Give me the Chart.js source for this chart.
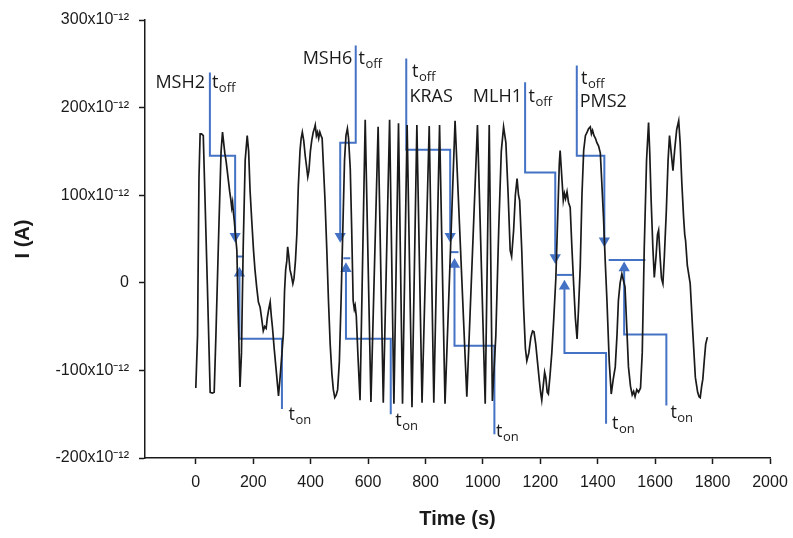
<!DOCTYPE html>
<html>
<head>
<meta charset="utf-8">
<script src="https://cdn.jsdelivr.net/npm/chart.js@4/dist/chart.umd.min.js"></script>
<style>
  html, body { margin: 0; padding: 0; background: #fff; }
  #wrap { width: 793px; height: 538px; }
</style>
</head>
<body>
<div id="wrap"><canvas id="myChart" width="793" height="538"></canvas></div>
<script>
// current trace, time in s, current in pA (axis shows x10^-12 A)
const time = [0, 6, 11, 15, 20, 26, 30, 40, 50, 58, 64, 70, 80, 88, 93, 97, 101, 105, 108, 113, 118, 122, 125, 128, 131, 134, 138, 143, 148, 154,
    159, 165, 172, 179, 184, 189, 195, 201, 206, 212, 218, 224, 229, 235, 240, 245, 249, 254, 259, 263, 267, 273, 280, 288, 293, 299, 305, 309, 313, 317,
    320, 324, 328, 333, 338, 342, 347, 352, 357, 363, 367, 371, 376, 381, 386, 390, 394, 399, 404, 409, 413, 416, 420, 424, 428, 432, 436, 440, 445, 450,
    456, 462, 468, 474, 479, 484, 489, 494, 500, 506, 512, 518, 523, 528, 532, 538, 543, 548, 552, 555, 559, 565, 572, 590, 610, 635, 653, 675, 690, 706,
    720, 736, 753, 770, 788, 813, 829, 849, 868, 903, 944, 981, 1008, 1022, 1033, 1045, 1055, 1064, 1072, 1080, 1088, 1095, 1100, 1107, 1113, 1119, 1124, 1128, 1135, 1142,
    1148, 1153, 1160, 1167, 1173, 1178, 1184, 1190, 1196, 1201, 1205, 1210, 1215, 1219, 1224, 1228, 1234, 1240, 1247, 1254, 1261, 1266, 1269, 1274, 1280, 1284, 1288, 1293, 1298, 1304,
    1310, 1316, 1322, 1328, 1333, 1339, 1345, 1351, 1357, 1363, 1368, 1374, 1378, 1382, 1387, 1392, 1397, 1403, 1409, 1414, 1420, 1426, 1432, 1440, 1447, 1454, 1461, 1467, 1472, 1478,
    1484, 1490, 1495, 1501, 1507, 1514, 1520, 1525, 1530, 1536, 1542, 1549, 1555, 1562, 1570, 1577, 1581, 1586, 1592, 1597, 1603, 1608, 1612, 1617, 1622, 1627, 1632, 1639, 1645, 1650,
    1656, 1662, 1668, 1675, 1682, 1687, 1693, 1699, 1703, 1706, 1712, 1722, 1730, 1740, 1748, 1753, 1757, 1762, 1766, 1771, 1776, 1782];
const current = [-120, -60, 120, 170, 170, 168, 120, 0, -125, -126, -125, -60, 60, 150, 172, 160, 148, 140, 132, 118, 104, 95, 86, 92, 80, 71, 55, 37, -40, -119,
    -80, 40, 140, 168, 150, 105, 70, 37, 15, -5, -22, -28, -40, -55, -50, -52, -40, -30, -22, -38, -51, -75, -100, -129, -110, -85, -58, -10, 15, 25,
    41, 30, 15, 8, -1, 5, 25, 56, 110, 151, 165, 172, 162, 145, 132, 121, 128, 150, 163, 172, 176, 180, 168, 172, 165, 172, 168, 165, 130, 94,
    40, -20, -70, -104, -122, -131, -128, -122, -90, -20, 60, 140, 168, 176, 165, 130, 60, -20, -30, -26, -38, -85, -134, 186, -136, 178, -137, 186, -138, 182,
    -138, 180, -142, 180, -137, 179, -137, 180, -138, 185, -130, 180, -138, 180, -135, -60, 60, 150, 178, 160, 100, 37, 30, 60, 100, 119, 100, 94, 40, -30,
    -75, -89, -80, -62, -55, -56, -70, -90, -110, -125, -134, -118, -102, -108, -125, -127, -105, -80, -40, 5, 80, 135, 151, 125, 94, 102, 96, 104, 92, 86,
    40, -1, -40, -64, -30, 18, 100, 151, 168, 172, 176, 178, 170, 174, 168, 165, 160, 156, 148, 115, 75, 25, -20, -90, -127, -110, -96, -60, -20, 0,
    10, 2, -5, -50, -96, -118, -128, -124, -130, -122, -125, -120, -80, 40, 140, 183, 150, 94, 40, 6, 30, 55, 60, 30, 5, -1, 30, 83, 140, 168,
    148, 128, 152, 175, 185, 160, 113, 75, 55, 48, 20, -1, -50, -108, -125, -130, -131, -118, -110, -89, -70, -62];

const xTicks = [0, 200, 400, 600, 800, 1000, 1200, 1400, 1600, 1800, 2000];
const yTicks = [-200, -100, 0, 100, 200, 300];

// blue markers per gene
const genes = ['MSH2', 'MSH6', 'KRAS', 'MLH1', 'PMS2'];
const offPathT = [[49, 49, 137, 137], [557, 557, 503, 503], [733, 733, 886, 886], [1147, 1147, 1252, 1252], [1327, 1327, 1423, 1423]];
const offPathI = [[240, 145, 145, 53], [271, 160, 160, 53], [256, 152, 152, 53], [229, 126, 126, 29], [248, 145, 145, 48]];
const markT = [[143, 166], [514, 538], [888, 915], [1258, 1312], [1438, 1566]];
const markI = [30, 28, 35, 9, 26];
const onPathT = [[152, 152, 300, 300], [523, 523, 679, 679], [901, 901, 1040, 1040], [1284, 1284, 1429, 1429], [1492, 1492, 1639, 1639]];
const onPathI = [[11, -64, -64, -144], [16, -64, -64, -150], [21, -72, -72, -173], [-4, -80, -80, -161], [17, -59, -59, -140]];

// text anchors (data coords)
const nameAt = [[32, 222, 'right'], [545, 250, 'right'], [744, 206, 'left'], [1136, 206, 'right'], [1337, 201, 'left']];
const offAt = [[56, 222], [567, 250], [753, 235], [1159, 206], [1342, 227]];
const onAt = [[323, -157], [695, -163], [1046, -176], [1450, -167], [1653, -154]];

const BLUE = '#4472C4';
const INK = '#1a1a1a';

const pts = (xs, ys) => xs.map((x, i) => ({x: x, y: ys[i]}));

const datasets = [{
    data: pts(time, current),
    borderColor: INK,
    borderWidth: 1.7,
    pointRadius: 0,
    showLine: true,
    tension: 0
}];

genes.forEach((g, k) => {
    datasets.push({
        data: pts(offPathT[k], offPathI[k]),
        borderColor: BLUE, backgroundColor: BLUE, borderWidth: 2, showLine: true,
        pointStyle: 'triangle', pointRotation: 180,
        pointRadius: c => c.dataIndex === 3 ? 4.5 : 0
    });
    datasets.push({
        data: pts(markT[k], [markI[k], markI[k]]),
        borderColor: BLUE, borderWidth: 2, showLine: true, pointRadius: 0
    });
    datasets.push({
        data: pts(onPathT[k], onPathI[k]),
        borderColor: BLUE, backgroundColor: BLUE, borderWidth: 2, showLine: true,
        pointStyle: 'triangle', pointRotation: 0,
        pointRadius: c => c.dataIndex === 0 ? 4.5 : 0
    });
});

const labelPlugin = {
    id: 'geneLabels',
    afterDatasetsDraw(chart) {
        const ctx = chart.ctx, sx = chart.scales.x, sy = chart.scales.y;
        const sub = (t, s, x, y) => {
            ctx.font = '18px "Open Sans"';
            ctx.textAlign = 'left';
            ctx.fillText(t, x, y);
            const w = ctx.measureText(t).width;
            ctx.font = '13px "Open Sans"';
            ctx.fillText(s, x + w + 0.5, y + 4);
        };
        ctx.save();
        ctx.fillStyle = INK;
        ctx.textBaseline = 'alphabetic';
        genes.forEach((g, k) => {
            ctx.font = '18px "Open Sans"';
            ctx.textAlign = nameAt[k][2];
            ctx.fillText(g, sx.getPixelForValue(nameAt[k][0]), sy.getPixelForValue(nameAt[k][1]));
            sub('t', 'off', sx.getPixelForValue(offAt[k][0]), sy.getPixelForValue(offAt[k][1]));
            sub('t', 'on', sx.getPixelForValue(onAt[k][0]), sy.getPixelForValue(onAt[k][1]));
        });
        ctx.restore();
    }
};

const config = {
    type: 'scatter',
    data: {datasets: datasets},
    options: {
        responsive: false,
        animation: false,
        events: [],
        layout: {padding: {top: 20, right: 23, left: 0, bottom: 0}},
        plugins: {legend: {display: false}, tooltip: {enabled: false}},
        scales: {
            x: {
                type: 'linear',
                min: -177,
                max: 2000,
                afterBuildTicks: s => { s.ticks = xTicks.map(v => ({value: v})); },
                afterFit: s => { s.height = 80; s.paddingLeft = 0; s.paddingRight = 0; },
                border: {color: INK, width: 1.5},
                grid: {drawOnChartArea: false, drawTicks: true, tickLength: 6, tickColor: INK, tickWidth: 1.5},
                ticks: {
                    color: INK,
                    font: {family: '"Liberation Sans", Arial, sans-serif', size: 16},
                    padding: 9,
                    maxRotation: 0,
                    callback: v => String(v)
                },
                title: {display: true, text: 'Time (s)', color: INK, font: {family: '"Liberation Sans", Arial, sans-serif', size: 20, weight: 'bold'}, padding: {top: 0, bottom: 7}}
            },
            y: {
                min: -200,
                max: 300,
                afterBuildTicks: s => { s.ticks = yTicks.map(v => ({value: v})); },
                afterFit: s => { s.width = 145; s.paddingTop = 0; s.paddingBottom = 0; },
                border: {color: INK, width: 1.5},
                grid: {drawOnChartArea: false, drawTicks: true, tickLength: 6, tickColor: INK, tickWidth: 1.5},
                ticks: {
                    color: INK,
                    font: {family: '"Liberation Sans", Arial, sans-serif', size: 16},
                    padding: 10,
                    callback: v => v === 0 ? '0' : v + 'x10\u207B\u00B9\u00B2'
                },
                title: {display: true, text: 'I (A)', color: INK, font: {family: '"Liberation Sans", Arial, sans-serif', size: 20, weight: 'bold'}, padding: {top: 11, bottom: 0}}
            }
        }
    },
    plugins: [labelPlugin]
};

const myChart = new Chart(document.getElementById('myChart'), config);
</script>
</body>
</html>
